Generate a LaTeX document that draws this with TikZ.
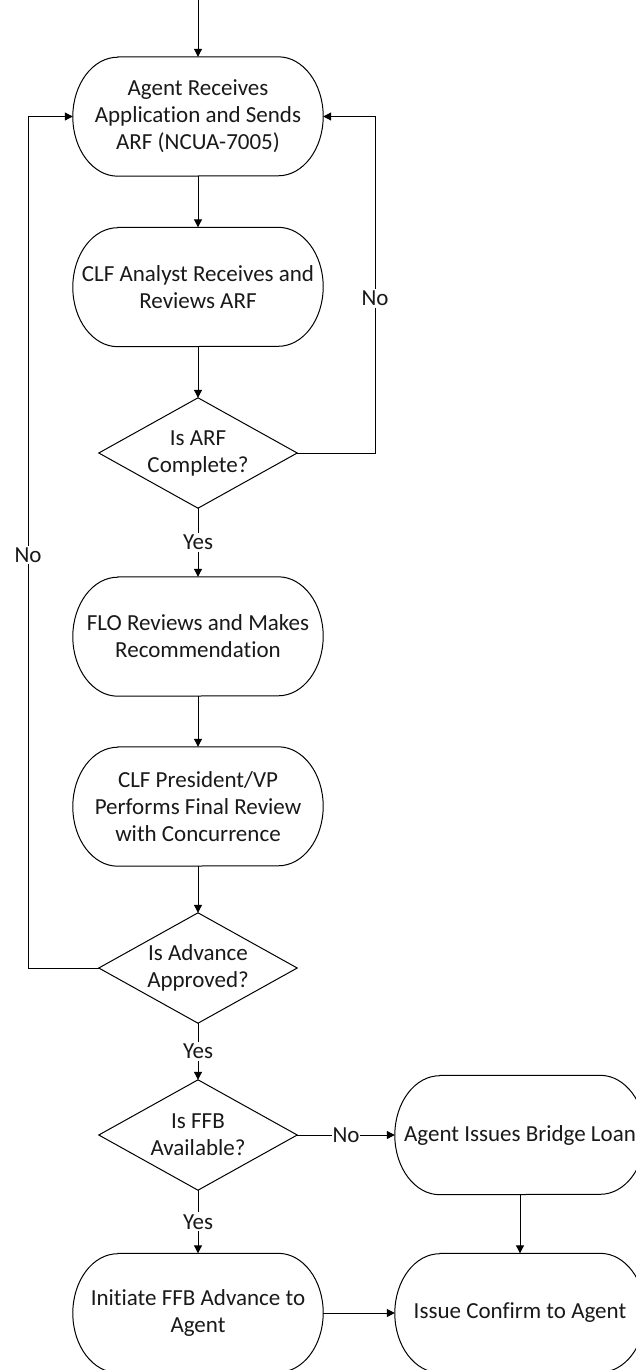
\documentclass[tikz,border=0pt]{standalone}
\usepackage{fontspec}
\setmainfont{Carlito}[Ligatures={NoCommon,NoContextual}]
\usetikzlibrary{arrows.meta}
\begin{document}
\begin{tikzpicture}[x=1pt,y=-1pt,
  every node/.style={font=\fontsize{23}{27}\selectfont, text=black!90},
  term/.style={rectangle, minimum width=250pt, minimum height=119pt, inner sep=0pt, align=center},
  decis/.style={rectangle, minimum width=198pt, minimum height=110pt, inner sep=0pt, align=center},
  outl/.style={line width=1pt, draw=black},
  arr/.style={line width=1pt, draw=black, -{Triangle[length=8pt,width=8pt]}},
  lbl/.style={fill=white, inner sep=2pt}]
\useasboundingbox (0,0) rectangle (636,1370);

% process steps (terminator shapes)
\node[term] (n1) at (198,116.5) {Agent Receives\\Application and Sends\\ARF (NCUA-7005)};
\node[term] (n2) at (198,287) {CLF Analyst Receives and\\Reviews ARF};
\node[term] (n3) at (198,636.5) {FLO Reviews and Makes\\Recommendation};
\node[term] (n4) at (198,806.5) {CLF President/VP\\Performs Final Review\\with Concurrence};
\node[term] (n5) at (520,1135) {Agent Issues Bridge Loan};
\node[term] (n7) at (198,1313) {Initiate FFB Advance to\\Agent};
\node[term] (n6) at (520,1313) {Issue Confirm to Agent};

% decisions
\node[decis] (d1) at (198,453) {Is ARF\\Complete?};
\node[decis] (d2) at (198,968) {Is Advance\\Approved?};
\node[decis] (d3) at (198,1135) {Is FFB\\Available?};

% terminator outlines: flat top/bottom with elliptical ends
\foreach \n in {n1,n2,n3,n4,n5,n6,n7}
  \draw[outl] ([xshift=45pt]\n.north west) -- ([xshift=-45pt]\n.north east)
    arc[start angle=90, end angle=-90, x radius=45pt, y radius=59.5pt]
    -- ([xshift=45pt]\n.south west)
    arc[start angle=270, end angle=90, x radius=45pt, y radius=59.5pt] -- cycle;

% diamond outlines
\foreach \n in {d1,d2,d3}
  \draw[outl] (\n.north) -- (\n.east) -- (\n.south) -- (\n.west) -- cycle;

% connectors
\coordinate (start) at (198,0);
\coordinate (r1) at (375,453);
\coordinate (r2) at (375,116.5);
\coordinate (l1) at (28,968);
\coordinate (l2) at (28,116.5);

\draw[arr] (start) -- (n1.north);
\draw[arr] (n1.south) -- (n2.north);
\draw[arr] (n2.south) -- (d1.north);
\draw[arr] (d1.east) -- (r1) -- node[lbl, pos=0.46] {No} (r2) -- (n1.east);
\draw[arr] (d1.south) -- node[lbl] {Yes} (n3.north);
\draw[arr] (n3.south) -- (n4.north);
\draw[arr] (n4.south) -- (d2.north);
\draw[arr] (d2.west) -- (l1) -- node[lbl, pos=0.485] {No} (l2) -- (n1.west);
\draw[arr] (d2.south) -- node[lbl] {Yes} (d3.north);
\draw[arr] (d3.east) -- node[lbl, inner sep=1pt] {No} (n5.west);
\draw[arr] (d3.south) -- node[lbl] {Yes} (n7.north);
\draw[arr] (n5.south) -- (n6.north);
\draw[arr] (n7.east) -- (n6.west);
\end{tikzpicture}
\end{document}
